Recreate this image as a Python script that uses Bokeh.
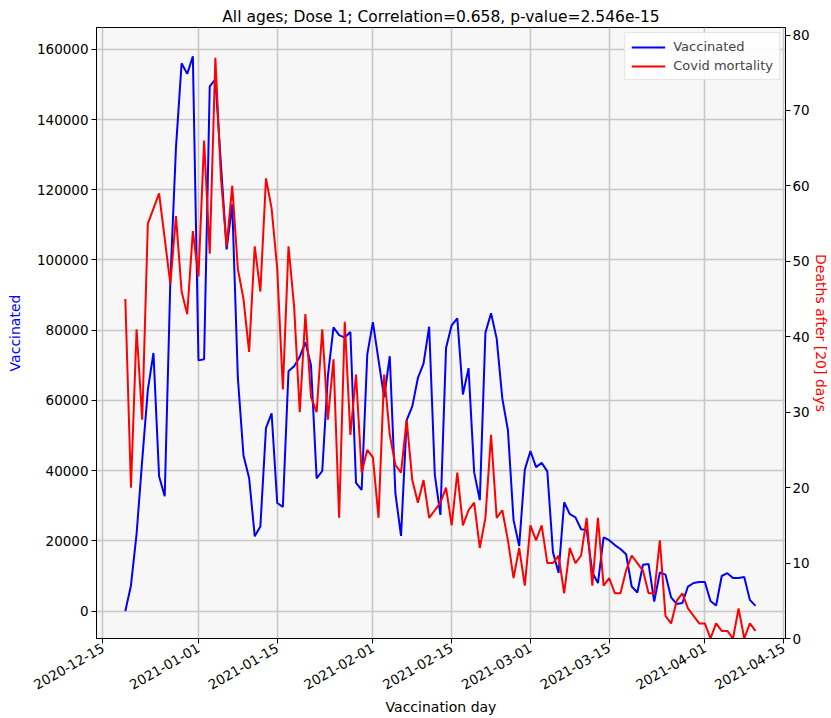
import math
import pandas as pd
from bokeh.plotting import figure
from bokeh.models import (Range1d, LinearAxis, FixedTicker, DatetimeTickFormatter,
                          BasicTickFormatter, Legend, LegendItem, ColumnDataSource)
from bokeh.embed import file_html
from bokeh.resources import INLINE

# ---------------- data ----------------
start_date = "2020-12-19"
vaccinated = [
    0, 7300, 22000, 43000, 63000, 73500, 38400, 32700, 94000, 132000,
    156000, 153000, 158000, 71400, 71700, 149400, 151400, 127000, 103000, 115800,
    66400, 44300, 37900, 21300, 24100, 52200, 56300, 30800, 29700, 68300,
    69700, 72400, 76600, 70000, 37800, 39900, 67000, 80800, 78600, 77900,
    79500, 36500, 34500, 73100, 82300, 71500, 60900, 72600, 33500, 21400,
    54400, 58300, 66400, 70500, 81000, 38900, 27400, 74900, 81400, 83400,
    61700, 69200, 39500, 31600, 79300, 84800, 77600, 60600, 51500, 25900,
    18500, 40300, 45600, 41000, 42200, 39800, 16800, 10900, 31000, 27600,
    26700, 23300, 23100, 11000, 8000, 21000, 20200, 18800, 17700, 16200,
    7000, 5300, 13200, 13400, 2700, 11000, 10400, 3900, 2000, 2300,
    7000, 8000, 8300, 8300, 2900, 1600, 10000, 10800, 9400, 9400,
    9700, 3200, 1500,
]
deaths = [
    45, 20, 41, 29, 55, 57, 59, 53, 47, 56,
    46, 43, 54, 48, 66, 51, 77, 61, 52, 60,
    49, 45, 38, 52, 46, 61, 57, 49, 33, 52,
    44, 30, 43, 32, 30, 41, 29, 37, 16, 42,
    27, 35, 22, 25, 24, 16, 35, 27, 23, 22,
    29, 21, 18, 21, 16, 17, 18, 20, 15, 22,
    15, 17, 18, 12, 16, 27, 16, 17, 13, 8,
    12, 7, 15, 13, 15, 10, 10, 11, 6, 12,
    10, 11, 16, 7, 16, 7, 8, 6, 6, 9,
    11, 10, 9, 6, 6, 13, 3, 2, 5, 6,
    4, 3, 2, 2, 0, 2, 1, 1, 0, 4,
    0, 2, 1,
]
x_tick_labels = ["2020-12-15", "2021-01-01", "2021-01-15", "2021-02-01", "2021-02-15",
                 "2021-03-01", "2021-03-15", "2021-04-01", "2021-04-15"]
left_ticks = [0, 20000, 40000, 60000, 80000, 100000, 120000, 140000, 160000]
right_ticks = [0, 10, 20, 30, 40, 50, 60, 70, 80]

title_text = "All ages; Dose 1; Correlation=0.658, p-value=2.546e-15"

# ---------------- build ----------------
dates = pd.date_range(start_date, periods=len(vaccinated), freq="D")
src = ColumnDataSource(dict(date=dates, vacc=vaccinated, deaths=deaths))

FONT = "DejaVu Sans"

p = figure(width=831, height=718, x_axis_type="datetime",
           output_backend="svg", toolbar_location=None,
           x_range=Range1d(pd.Timestamp("2020-12-13 21:00"), pd.Timestamp("2021-04-15 08:00")),
           y_range=Range1d(-7800, 166200),
           min_border_left=96, min_border_right=46, min_border_top=27, min_border_bottom=80)
p.extra_y_ranges = {"deaths": Range1d(0, 81)}

p.background_fill_color = "#f7f7f7"
p.border_fill_color = "white"
p.outline_line_color = "black"
p.outline_line_width = 1

p.title.text = title_text
p.title.align = "center"
p.title.text_font = FONT
p.title.text_font_size = "15.5px"
p.title.text_font_style = "normal"
p.title.text_color = "black"
p.title.standoff = 4

# x axis
tick_ms = [pd.Timestamp(t).value // 10**6 for t in x_tick_labels]
p.xaxis.ticker = FixedTicker(ticks=tick_ms)
fmt = "%Y-%m-%d"
p.xaxis.formatter = DatetimeTickFormatter(milliseconds=fmt, seconds=fmt, minsec=fmt, minutes=fmt,
                                          hourmin=fmt, hours=fmt, days=fmt, months=fmt, years=fmt)
p.xaxis.major_label_orientation = math.pi / 6
p.xaxis.axis_label = "Vaccination day"
p.xaxis.axis_label_text_color = "black"

# left axis
p.yaxis.ticker = FixedTicker(ticks=left_ticks)
p.yaxis.formatter = BasicTickFormatter(use_scientific=False)
p.yaxis.axis_label = "Vaccinated"
p.yaxis.axis_label_text_color = "blue"

# right axis
ax2 = LinearAxis(y_range_name="deaths", ticker=FixedTicker(ticks=right_ticks),
                 axis_label="Deaths after [20] days")
p.add_layout(ax2, "right")
ax2.axis_label_text_color = "red"

for ax in [p.xaxis[0], p.yaxis[0], ax2]:
    ax.major_label_text_font = FONT
    ax.major_label_text_font_size = "13.5px"
    ax.major_label_text_color = "black"
    ax.axis_label_text_font = FONT
    ax.axis_label_text_font_size = "14px"
    ax.axis_label_text_font_style = "normal"
    ax.major_tick_in = 0
    ax.major_tick_out = 5
    ax.minor_tick_in = 0
    ax.minor_tick_out = 0
    ax.major_tick_line_color = "black"
    ax.axis_line_color = "black"
    ax.major_label_standoff = 3

p.yaxis.axis_label_standoff = 11
p.xaxis.axis_label_standoff = 2
ax2.major_label_standoff = 2
ax2.axis_label_standoff = 0

p.xgrid.grid_line_color = "#c8c8c8"
p.ygrid.grid_line_color = "#c8c8c8"
p.xgrid.grid_line_width = 1.6
p.ygrid.grid_line_width = 1.6

r_vacc = p.line("date", "vacc", source=src, line_color="blue", line_width=2)
r_death = p.line("date", "deaths", source=src, y_range_name="deaths", line_color="red", line_width=2)

legend = Legend(items=[LegendItem(label="Vaccinated", renderers=[r_vacc]),
                       LegendItem(label="Covid mortality", renderers=[r_death])],
                location="top_right")
legend.label_text_font = FONT
legend.label_text_font_size = "13px"
legend.glyph_width = 34
legend.glyph_height = 14
legend.label_standoff = 8
legend.padding = 6
legend.spacing = 4
legend.margin = 5
legend.border_line_color = "#cccccc"
legend.border_line_width = 1
legend.background_fill_color = "white"
legend.background_fill_alpha = 0.85
p.add_layout(legend)

open("out.html", "w").write(file_html(p, INLINE))
